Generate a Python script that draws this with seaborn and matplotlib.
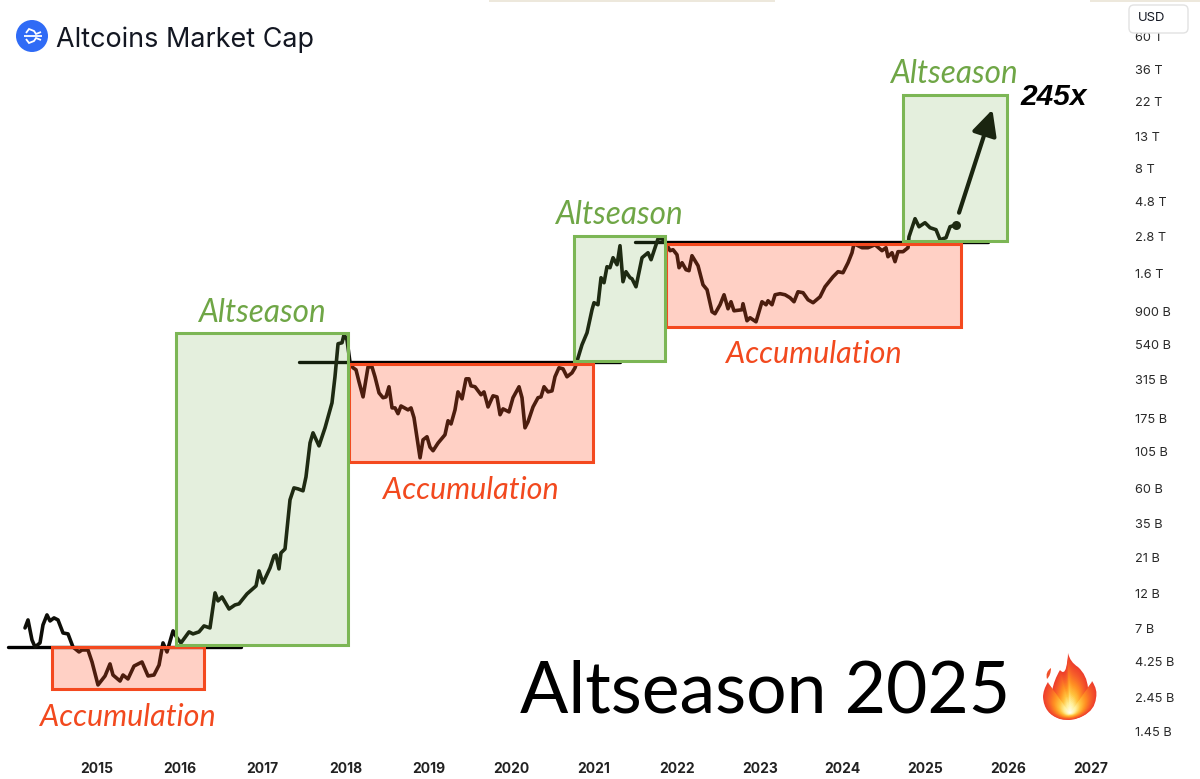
import matplotlib
matplotlib.use("Agg")
import matplotlib.pyplot as plt
import seaborn as sns
import pandas as pd
from matplotlib.patches import Rectangle, Circle, PathPatch, FancyBboxPatch
from matplotlib.path import Path
from matplotlib.transforms import IdentityTransform, ScaledTranslation
from matplotlib.colors import LinearSegmentedColormap

W, H = 1200, 779

years = [2014.131, 2014.167, 2014.215, 2014.252, 2014.312, 2014.348, 2014.396, 2014.433, 2014.481, 2014.529,
         2014.590, 2014.650, 2014.710, 2014.783, 2014.819, 2014.891, 2014.940, 2015.012, 2015.097, 2015.157,
         2015.193, 2015.278, 2015.314, 2015.374, 2015.447, 2015.543, 2015.616, 2015.688, 2015.749, 2015.797,
         2015.845, 2015.918, 2015.966, 2016.014, 2016.111, 2016.159, 2016.231, 2016.292, 2016.364, 2016.425,
         2016.461, 2016.509, 2016.594, 2016.666, 2016.714, 2016.811, 2016.920, 2016.956, 2017.004, 2017.089,
         2017.137, 2017.161, 2017.197, 2017.221, 2017.270, 2017.330, 2017.378, 2017.427, 2017.487, 2017.523,
         2017.572, 2017.608, 2017.680, 2017.753, 2017.837, 2017.873, 2017.910, 2017.958, 2017.982, 2018.018,
         2018.055, 2018.091, 2018.127, 2018.163, 2018.212, 2018.272, 2018.320, 2018.356, 2018.405, 2018.453,
         2018.489, 2018.525, 2018.562, 2018.598, 2018.634, 2018.670, 2018.755, 2018.791, 2018.827, 2018.900,
         2018.936, 2018.984, 2019.020, 2019.057, 2019.117, 2019.201, 2019.238, 2019.274, 2019.322, 2019.358,
         2019.407, 2019.455, 2019.491, 2019.515, 2019.564, 2019.636, 2019.672, 2019.721, 2019.781, 2019.829,
         2019.866, 2019.902, 2019.974, 2020.022, 2020.095, 2020.131, 2020.167, 2020.203, 2020.264, 2020.324,
         2020.360, 2020.397, 2020.445, 2020.493, 2020.529, 2020.577, 2020.626, 2020.674, 2020.734, 2020.771,
         2020.807, 2020.855, 2020.916, 2020.976, 2021.000, 2021.048, 2021.085, 2021.121, 2021.157, 2021.193,
         2021.230, 2021.278, 2021.314, 2021.350, 2021.386, 2021.435, 2021.459, 2021.507, 2021.580, 2021.652,
         2021.689, 2021.773, 2021.822, 2021.870, 2021.918, 2021.954, 2022.002, 2022.027, 2022.063, 2022.111,
         2022.147, 2022.183, 2022.256, 2022.316, 2022.365, 2022.425, 2022.461, 2022.522, 2022.570, 2022.618,
         2022.654, 2022.690, 2022.787, 2022.799, 2022.847, 2022.884, 2022.956, 2023.028, 2023.077, 2023.101,
         2023.149, 2023.186, 2023.246, 2023.307, 2023.367, 2023.415, 2023.463, 2023.524, 2023.584, 2023.645,
         2023.729, 2023.789, 2023.886, 2023.946, 2024.006, 2024.067, 2024.115, 2024.139, 2024.236, 2024.308,
         2024.393, 2024.477, 2024.525, 2024.549, 2024.598, 2024.634, 2024.670, 2024.731, 2024.791, 2024.803,
         2024.876, 2024.924, 2024.996, 2025.057, 2025.129, 2025.178, 2025.250, 2025.298, 2025.371]

cap_billions = [7.00, 7.91, 5.83, 5.23, 5.57, 7.33, 8.54, 7.79, 8.16, 7.91,
                6.48, 6.39, 5.23, 4.85, 5.00, 5.00, 4.16, 2.93, 3.36, 4.04,
                3.41, 3.11, 3.41, 3.21, 3.91, 4.16, 3.36, 3.41, 3.97, 5.57,
                4.85, 6.69, 6.01, 5.57, 6.59, 6.39, 6.59, 7.22, 7.00, 11.96,
                10.58, 11.24, 9.35, 9.95, 10.11, 11.78, 13.30, 16.73, 13.92, 17.52,
                21.04, 21.36, 17.25, 22.03, 23.41, 49.55, 59.5, 58.6, 56.9, 70.4,
                118.4, 138.0, 113.1, 149.0, 218.3, 324.8, 538.4, 546.5, 617.4, 572.2,
                402.4, 373, 361.7, 301, 239, 378, 378, 325, 254, 236,
                239, 279, 202, 202, 185, 208, 196, 202, 174, 94.2,
                124, 130, 111, 105, 118, 134, 166, 158, 196, 258,
                232, 315, 315, 283, 279, 247, 258, 205, 243, 239,
                182, 199, 190, 236, 279, 236, 149, 163, 205, 236,
                239, 279, 258, 262, 325, 373, 367, 325, 345, 373,
                434.5, 530, 637, 905, 1008, 977, 1477, 1368, 1747, 1721,
                2005, 1801, 2408, 1389, 1619, 1477, 1454, 1286, 2005, 2164,
                1945, 2679, 2679, 2486, 2232, 2266, 2099, 1721, 1857, 1669,
                1644, 2067, 1774, 1326, 1229, 878, 852, 977, 1138, 919,
                1023, 891, 905, 993, 765, 801, 753, 1023, 977, 1039,
                977, 1138, 1157, 1138, 1087, 1023, 1192, 1174, 1055, 1008,
                1103, 1286, 1499, 1619, 1594, 1857, 2164, 2484, 2336, 2336,
                2445, 2232, 2336, 2035, 2164, 1887, 2198, 2198, 2336, 2762,
                3639, 3218, 3423, 3171, 3076, 2640, 2722, 3218, 3320]

year_ticks = list(range(2015, 2028))
price_ticks = [1.45, 2.45, 4.25, 7, 12, 21, 35, 60, 105, 175, 315, 540, 900,
               1600, 2800, 4800, 8000, 13000, 22000, 36000, 60000]
price_labels = ["1.45 B", "2.45 B", "4.25 B", "7 B", "12 B", "21 B", "35 B", "60 B", "105 B", "175 B",
                "315 B", "540 B", "900 B", "1.6 T", "2.8 T", "4.8 T", "8 T", "13 T", "22 T", "36 T", "60 T"]

# (start year, end year, low, high) in billions
accumulation_boxes = [(2014.457, 2016.292, 2.753, 5.23),
                      (2018.042, 2020.988, 88.6, 396.5),
                      (2021.870, 2025.431, 698, 2484)]
altseason_boxes = [(2015.954, 2018.030, 5.40, 637),
                   (2020.759, 2021.858, 415, 2807),
                   (2024.731, 2025.987, 2600, 24238)]
# (start year, end year, level)
resistance_lines = [(2013.926, 2016.739, 5.23),
                    (2017.439, 2021.314, 409),
                    (2021.495, 2025.757, 2561)]
arrow_from = (2025.407, 3989)
arrow_to = (2025.810, 19270)

RED = "#F4491F"
GREEN = "#7CB655"
INK = "#0E0E08"

sns.set_theme(style="white")
plt.rcParams["font.family"] = ["Inter", "DejaVu Sans"]

fig = plt.figure(figsize=(W / 100, H / 100), dpi=100, facecolor="white")
ax = fig.add_axes([0, 22 / H, 1130 / W, 757 / H])
ax.set_yscale("log")
ax.set_xlim(2013.829, 2027.471)
ax.set_ylim(0.974, 102900)
sns.despine(ax=ax, left=True, bottom=True, right=True, top=True)
ax.grid(False)

for x0, x1, lvl in resistance_lines:
    ax.plot([x0, x1], [lvl, lvl], color="black", lw=2.4, solid_capstyle="round", zorder=1)

df = pd.DataFrame({"year": years, "cap": cap_billions})
sns.lineplot(data=df, x="year", y="cap", color=INK, lw=2.6, ax=ax, zorder=2, estimator=None, sort=False,
             solid_joinstyle="round", solid_capstyle="round")
sns.scatterplot(x=[years[-1]], y=[cap_billions[-1]], color=INK, s=42, ax=ax, zorder=2, linewidth=0)
ax.set_xlabel("")
ax.set_ylabel("")

for x0, x1, lo, hi in accumulation_boxes:
    ax.add_patch(Rectangle((x0, lo), x1 - x0, hi - lo, facecolor=(1, 0.29, 0.13, 0.26), edgecolor=RED, lw=2.2, zorder=3))
for x0, x1, lo, hi in altseason_boxes:
    ax.add_patch(Rectangle((x0, lo), x1 - x0, hi - lo, facecolor=(0.42, 0.67, 0.27, 0.18), edgecolor=GREEN, lw=2.2, zorder=3))

ax.annotate("", xy=arrow_to, xytext=arrow_from, zorder=4,
            arrowprops=dict(arrowstyle="-|>,head_length=0.85,head_width=0.42", color="#1A2510", lw=3.0,
                            shrinkA=0, shrinkB=0, mutation_scale=18))

ax.set_xticks(year_ticks)
ax.set_xticklabels([str(y) for y in year_ticks], fontsize=10, fontweight="bold", color="#222222")
ax.set_yticks(price_ticks)
ax.set_yticklabels(price_labels, fontsize=9.2, color="#2A2A2A")
ax.minorticks_off()
ax.yaxis.tick_right()
ax.tick_params(axis="both", length=0, which="both")
ax.tick_params(axis="y", pad=3.6)
ax.tick_params(axis="x", pad=3.4)
shift_down = ScaledTranslation(0, -1 / 100, fig.dpi_scale_trans)
for lab in ax.get_yticklabels():
    lab.set_transform(lab.get_transform() + shift_down)


def at(x, y):
    return x / W, 1 - y / H


LABEL_FONT = ["Lato", "DejaVu Sans"]
for x, y in [(262, 313), (954, 74), (619, 215)]:
    fig.text(*at(x, y), "Altseason", color="#6FA646", fontsize=22.7, style="italic",
             family=LABEL_FONT, ha="center", va="center", zorder=6)
for x, y in [(128, 717), (471, 490), (814, 354)]:
    fig.text(*at(x, y), "Accumulation", color="#F2491E", fontsize=22, style="italic",
             family=LABEL_FONT, ha="center", va="center", zorder=6)

fig.text(*at(1054, 97), "245x", color="black", fontsize=21.5, fontweight="bold", style="italic",
         family=["Liberation Sans"], ha="center", va="center", zorder=6)
fig.text(*at(765, 692), "Altseason 2025", color="black", fontsize=51.5, family=LABEL_FONT,
         ha="center", va="center", zorder=6)
fig.text(*at(56, 40), "Altcoins Market Cap", color="#131722", fontsize=19.4, family=["Inter"],
         ha="left", va="center", zorder=6)

px = IdentityTransform()

# faint strip along the top edge
for x0, x1 in [(489, 775), (1090, 1200)]:
    fig.add_artist(Rectangle((x0, H - 2), x1 - x0, 2, transform=px, facecolor="#EDE8DC", edgecolor="none", zorder=5))

# USD button
fig.add_artist(FancyBboxPatch((1132, H - 30), 53, 22, boxstyle="round,pad=3,rounding_size=5", transform=px,
                              facecolor="white", edgecolor="#E2E2E2", lw=1, zorder=5))
fig.text(*at(1152, 18), "USD", color="#131722", fontsize=9.4, ha="center", va="center", zorder=6)

# logo
fig.add_artist(Circle((32, H - 36), 16, transform=px, facecolor="#2F6BF6", edgecolor="none", zorder=5))
for pts in ([(26, 33), (29, 29), (34, 31), (36, 34), (41, 32)],
            [(24, 36), (42, 36)],
            [(26, 39), (29, 43), (34, 41), (36, 38), (41, 40)]):
    fig.add_artist(PathPatch(Path([(a, H - b) for a, b in pts]), transform=px, fill=False,
                             edgecolor="white", lw=1.3, zorder=6))

# flame emoji, layered towards its glowing centre
flame_outline = [(1068, 653), (1070, 662), (1078, 667), (1087, 675), (1088, 688), (1091, 686), (1092, 681),
                 (1098, 690), (1096, 698), (1095, 710), (1083, 716), (1072, 722), (1060, 719), (1044, 714),
                 (1043, 697), (1043, 690), (1048, 682), (1050, 688), (1052, 691), (1054, 680), (1060, 670),
                 (1064, 675), (1066, 668), (1068, 660), (1068, 653)]
wisp = [(1051, 668), (1045, 672), (1047, 679), (1051, 675), (1051, 668)]
flame_cmap = LinearSegmentedColormap.from_list(
    "flame", ["#EE3F2B", "#F7602A", "#FF8F22", "#FFC23C", "#FFF09A", "#FFFFEE"])


def flame_path(points):
    verts = [(a, H - b) for a, b in points]
    return Path(verts, [Path.MOVETO] + [Path.CURVE3] * (len(verts) - 1))


fig.add_artist(PathPatch(flame_path(wisp), transform=px, facecolor="#F0512B", edgecolor="none", zorder=6))
layers = 26
for i in range(layers):
    f = 1 - i / layers
    pts = [(1070 + (a - 1070) * f, 713 + (b - 713) * f) for a, b in flame_outline]
    fig.add_artist(PathPatch(flame_path(pts), transform=px, facecolor=flame_cmap(i / (layers - 1)),
                             edgecolor="none", zorder=6 + i * 0.01))

fig.savefig("out.png", dpi=100, facecolor="white")
